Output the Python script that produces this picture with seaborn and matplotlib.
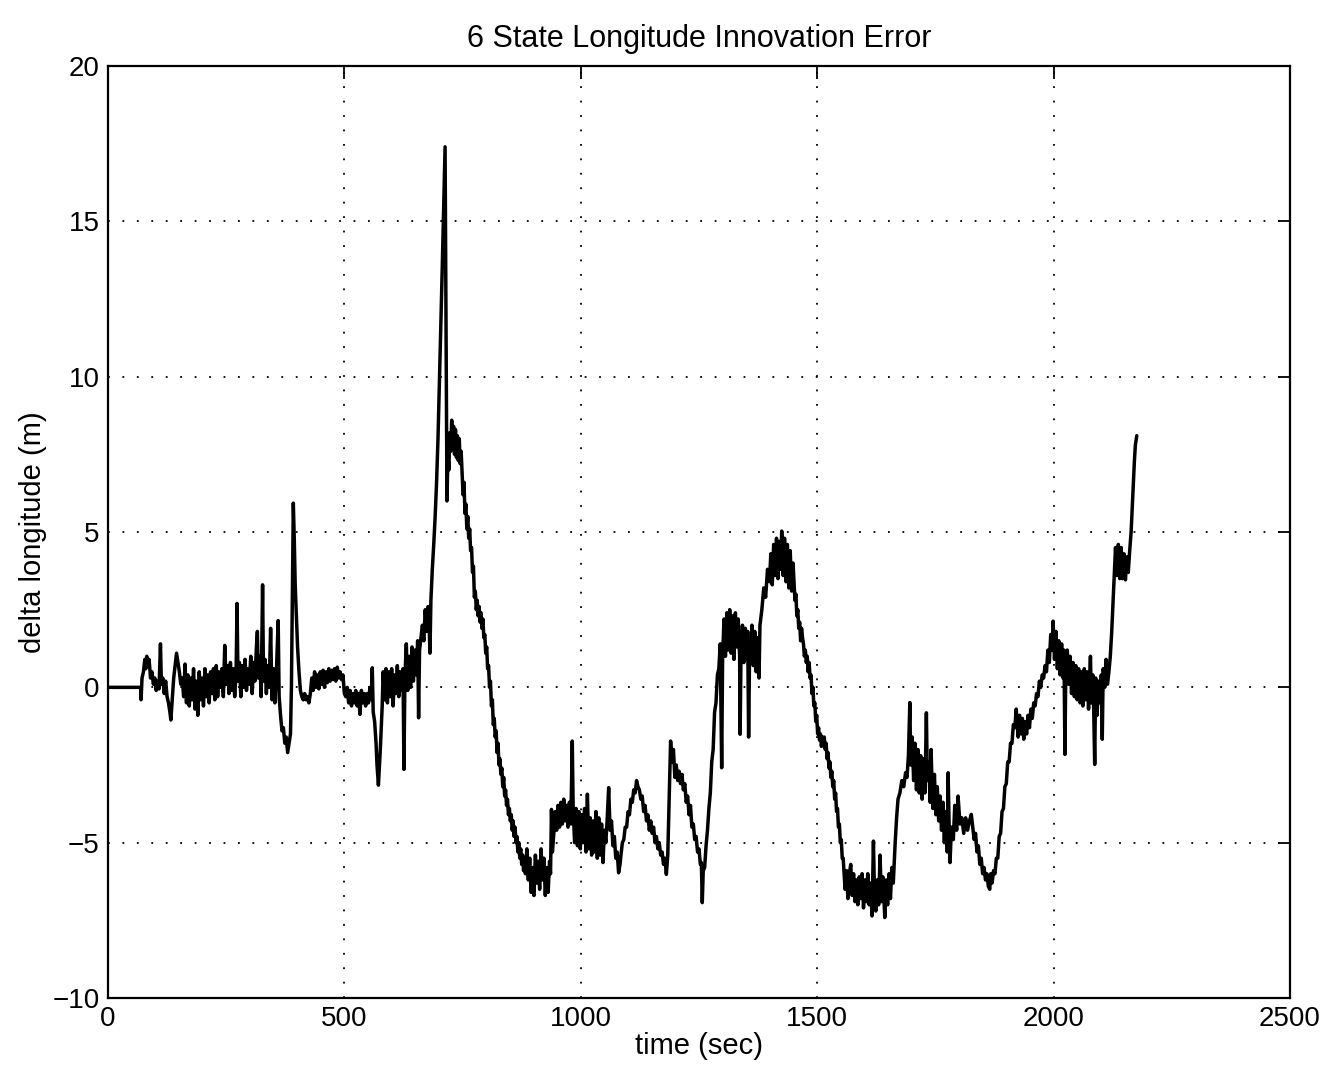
import numpy as np
import pandas as pd
import matplotlib
matplotlib.use("Agg")
import matplotlib.pyplot as plt
import seaborn as sns

# Longitude innovation error samples (time in s, error in m), one list per phase of the run
warmup = [(0, 0), (69, 0), (70, -0.4), (72, 0.3), (75, 0.5), (78, 0.9), (80, 0.6), (82, 1.0),
          (84, 0.7), (87, 0.9), (90, 0.3), (93, 0.5), (96, 0.1), (99, 0.3), (102, -0.1),
          (105, 0.2), (108, -0.05), (111, 1.4), (113, 0.1), (116, 0.3), (119, -0.2), (122, 0.2),
          (125, -0.3), (128, -0.5), (131, -0.8), (133, -1.05), (136, -0.4), (139, 0.3),
          (142, 0.7), (145, 1.1), (148, 0.8), (151, 0.5), (154, 0.1), (157, 0.3), (160, -0.3)]

early_band = [(163, 0.75), (166, -0.5), (169, 0.4), (172, -0.6), (175, 0.3), (178, -0.4),
              (181, 0.6), (184, -0.7), (187, 0.2), (190, -0.9), (193, 0.5), (196, -0.4),
              (199, 0.3), (202, -0.6), (205, 0.6), (208, -0.3), (211, 0.4), (214, -0.5),
              (217, 0.5), (220, -0.2), (223, 0.6), (226, -0.4), (229, 0.7), (232, -0.3),
              (235, 0.5), (238, 0.0), (241, 0.6), (244, -0.3), (247, 1.35), (250, 0.1),
              (253, 0.7), (256, -0.2), (259, 0.8), (262, -0.1), (265, 0.6), (268, -0.3),
              (271, 0.5), (273, 2.7), (275, 0.2), (278, 0.8), (281, -0.3), (284, 0.7),
              (287, 0.0), (290, 0.9), (293, -0.1), (296, 0.6), (299, 0.1), (302, 1.0),
              (305, -0.2), (308, 0.8), (311, 0.2), (314, 1.3), (316, 1.8), (318, 0.3),
              (321, 1.0), (324, -0.3), (327, 3.3), (329, 0.2), (332, 0.9), (335, -0.2),
              (338, 0.7), (341, 0.0), (344, 1.9), (347, -0.4), (350, 0.6), (353, -0.5),
              (356, 0.4), (360, 2.15), (362, -0.3)]

first_spike = [(365, -0.9), (368, -1.4), (371, -1.3), (374, -1.8), (377, -1.6), (380, -2.1),
               (383, -1.8), (386, -1.5), (388, 0.0), (390, 3.0), (392, 5.93), (394, 4.8),
               (396, 3.3), (398, 2.5), (401, 1.3), (404, 0.5), (407, -0.1), (410, -0.3),
               (413, -0.4), (416, -0.2), (419, -0.4), (422, -0.3), (425, -0.5), (428, -0.2)]

quiet_band = [(431, 0.3), (434, -0.1), (437, 0.5), (440, 0.0), (443, 0.4), (446, -0.05),
              (449, 0.5), (452, 0.1), (455, 0.55), (458, 0.0), (461, 0.5), (464, 0.15),
              (467, 0.6), (470, 0.2), (473, 0.55), (476, 0.25), (479, 0.6), (482, 0.2),
              (485, 0.65), (488, 0.3), (491, 0.5), (494, 0.25), (497, 0.4),
              (500, -0.2), (503, -0.3), (506, 0.0), (509, -0.5), (512, -0.1), (515, -0.6),
              (518, -0.2), (521, -0.5), (524, -0.1), (527, -0.6), (530, -0.2), (533, -0.87),
              (536, -0.1), (539, -0.5), (542, -0.2), (545, -0.6), (548, -0.2), (551, -0.5),
              (554, 0.0), (557, -0.4), (559, 0.63), (561, -0.8), (564, -1.1), (567, -1.8),
              (569, -2.5), (572, -3.15), (574, -2.6), (576, -2.0), (578, -1.3), (580, -0.6),
              (582, 0.5), (585, -0.4), (588, 0.6), (591, -0.5), (594, 0.5), (597, -0.3),
              (600, 0.6), (603, -0.6), (606, 0.4), (609, -0.2), (612, 0.7), (615, -0.3),
              (618, 0.5), (621, -0.1), (624, 0.6), (626, -2.64), (628, 0.3), (631, 1.4),
              (634, -0.1), (637, 1.0), (640, 0.0), (643, 1.3), (646, 0.2), (649, 1.2),
              (652, 0.4), (655, 1.5), (657, -0.98), (659, 1.2), (662, 1.6), (665, 2.0),
              (668, 1.5), (671, 2.5), (674, 1.8), (677, 2.6), (679, 2.2), (681, 1.1), (683, 2.8)]

main_peak = [(686, 3.8), (689, 4.6), (692, 5.5), (695, 6.6), (698, 8.0), (701, 9.8),
             (704, 11.5), (707, 13.5), (710, 15.5), (713, 17.4), (715, 12.0), (717, 6.0),
             (719, 7.5), (721, 7.0), (723, 8.2), (725, 7.6), (727, 8.6), (729, 7.8),
             (731, 8.4), (733, 7.5), (735, 8.3), (737, 7.4), (739, 8.1), (741, 7.3),
             (743, 8.0), (745, 7.2), (747, 7.6), (749, 6.9), (751, 6.2), (753, 6.6),
             (755, 5.6), (757, 5.9), (759, 5.1), (761, 5.5), (763, 4.8), (765, 5.1),
             (767, 4.4), (769, 4.5), (771, 3.7), (773, 3.9), (775, 2.9), (777, 3.1),
             (779, 2.5), (781, 2.8), (783, 2.3), (785, 2.6), (787, 2.1), (789, 2.4),
             (791, 1.9), (793, 2.2), (795, 1.6), (797, 1.7), (799, 1.1), (801, 1.3),
             (803, 0.6), (805, 0.7), (807, 0.0), (809, 0.2), (811, -0.6), (813, -0.4),
             (815, -1.2), (817, -1.0), (819, -1.6), (821, -1.4), (823, -2.1), (825, -1.8),
             (827, -2.5), (829, -2.3), (831, -2.8), (833, -2.6), (835, -3.2), (837, -2.9),
             (839, -3.5), (841, -3.3), (843, -3.8), (845, -3.6), (847, -4.1), (849, -3.9),
             (851, -4.3), (853, -4.1), (855, -4.6), (857, -4.3), (859, -4.8), (861, -4.5),
             (863, -5.0), (865, -4.8), (867, -5.3), (869, -5.0), (871, -5.5), (873, -5.2),
             (875, -5.7), (877, -5.4), (879, -5.9), (881, -5.5), (883, -6.0)]

first_trough = [(886, -5.2), (889, -6.2), (892, -5.5), (895, -6.6), (898, -5.8), (901, -6.7),
                (904, -5.4), (907, -6.3), (910, -5.6), (913, -6.5), (916, -5.2), (919, -6.2),
                (922, -5.5), (925, -6.7), (928, -5.8), (931, -6.6), (934, -5.6), (936, -6.0),
                (938, -3.93), (940, -5.3), (943, -4.7), (946, -4.0), (949, -4.6), (952, -3.8),
                (955, -4.5), (958, -3.7), (961, -4.4), (964, -3.6), (967, -4.3), (970, -3.8),
                (973, -4.5), (976, -3.7), (979, -4.4), (982, -1.73), (984, -4.0), (987, -5.0),
                (990, -3.9), (993, -5.1), (996, -4.0), (999, -5.2), (1002, -4.1), (1005, -5.0),
                (1008, -3.9), (1011, -5.3), (1014, -3.44), (1017, -5.2), (1020, -4.2),
                (1023, -5.4), (1026, -4.3), (1029, -5.3), (1032, -4.0), (1035, -5.5),
                (1038, -4.2), (1041, -5.4), (1044, -4.4), (1047, -5.64), (1050, -4.6),
                (1053, -5.0), (1056, -4.2), (1059, -3.23), (1062, -4.6), (1065, -4.3),
                (1068, -5.1), (1071, -4.8), (1074, -5.5), (1077, -5.3), (1080, -5.97),
                (1083, -5.7)]

mid_wiggles = [(1085, -5.4), (1088, -5.0), (1091, -4.9), (1094, -4.5), (1097, -4.5),
               (1100, -4.0), (1103, -4.1), (1106, -3.6), (1109, -3.7), (1112, -3.3),
               (1115, -3.4), (1118, -3.0), (1121, -3.2), (1124, -3.3), (1127, -3.6),
               (1130, -3.5), (1133, -4.0), (1136, -3.8), (1139, -4.3), (1142, -4.1),
               (1145, -4.6), (1148, -4.3), (1151, -4.7), (1154, -4.5), (1157, -5.0),
               (1160, -4.8), (1163, -5.2), (1166, -5.0), (1169, -5.4), (1172, -5.3),
               (1175, -5.7), (1178, -5.5), (1181, -6.02), (1184, -5.4), (1187, -3.6),
               (1190, -1.73), (1193, -2.4), (1196, -2.0), (1199, -2.9), (1202, -2.5),
               (1205, -3.0), (1208, -2.7), (1211, -3.1), (1214, -2.8), (1217, -3.3),
               (1220, -3.1), (1223, -3.7), (1226, -3.5), (1229, -4.1), (1232, -3.8),
               (1235, -4.5), (1238, -4.4), (1241, -4.9), (1244, -4.8), (1247, -5.3),
               (1250, -5.2), (1253, -5.7), (1255, -5.64), (1257, -6.93), (1259, -5.9),
               (1262, -5.8), (1265, -5.1), (1268, -4.6), (1271, -3.9), (1274, -3.4),
               (1277, -2.4), (1280, -2.0), (1283, -0.8), (1286, -0.5), (1289, 0.4),
               (1292, 0.6), (1295, 1.4), (1298, -2.59), (1300, 1.0)]

second_hump = [(1303, 2.2), (1306, 1.0), (1309, 2.4), (1312, 1.2), (1315, 2.5), (1318, 1.1),
               (1321, 2.3), (1324, 0.9), (1327, 2.4), (1330, 1.3), (1333, 2.2), (1336, 1.0),
               (1337, -1.51), (1339, 1.2), (1342, 2.0), (1345, 0.8), (1348, 1.9), (1351, 0.9),
               (1353, 1.8), (1355, -1.6), (1357, 1.0), (1359, 0.9), (1362, 2.0), (1365, 0.7),
               (1368, 1.8), (1371, 0.5), (1374, 1.6), (1377, 0.3), (1379, 2.0), (1383, 2.5),
               (1387, 3.2), (1391, 2.9), (1395, 3.8), (1399, 3.4), (1402, 4.3), (1405, 3.3),
               (1408, 4.6), (1411, 3.6), (1414, 4.8), (1417, 3.5), (1420, 4.7), (1423, 3.8),
               (1425, 5.03), (1428, 3.6), (1431, 4.8), (1434, 3.4), (1437, 4.6), (1440, 3.2),
               (1443, 4.4), (1446, 3.1), (1449, 4.0), (1451, 3.4), (1453, 2.8), (1455, 3.0),
               (1457, 2.3), (1459, 2.5), (1461, 1.9), (1463, 2.1), (1465, 1.5), (1467, 1.9),
               (1469, 1.6), (1471, 1.4), (1473, 1.0), (1475, 1.2), (1477, 0.8), (1479, 1.0),
               (1481, 0.5), (1483, 0.8), (1485, 0.3), (1487, 0.4), (1489, -0.2), (1491, 0.0),
               (1493, -0.6), (1495, -0.5), (1497, -1.1), (1499, -0.9), (1501, -1.5),
               (1503, -1.3), (1505, -1.7), (1507, -1.5), (1509, -1.9), (1511, -1.6),
               (1513, -1.8), (1515, -1.6), (1517, -2.0), (1519, -1.8), (1521, -2.3),
               (1523, -2.1), (1525, -2.6), (1527, -2.4), (1529, -2.9), (1531, -2.7),
               (1533, -3.2), (1535, -3.0), (1537, -3.6), (1539, -3.4), (1541, -4.0),
               (1543, -3.9), (1545, -4.5), (1547, -4.4), (1549, -5.0), (1551, -4.9),
               (1553, -5.5), (1555, -5.5)]

second_trough = [(1559, -6.5), (1562, -5.9), (1565, -6.8), (1568, -6.0), (1571, -5.7),
                 (1574, -6.7), (1577, -6.0), (1580, -6.9), (1583, -6.2), (1586, -7.0),
                 (1589, -6.1), (1592, -6.8), (1595, -6.0), (1598, -7.1), (1601, -6.2),
                 (1604, -6.9), (1607, -6.0), (1610, -7.0), (1613, -6.3), (1616, -7.36),
                 (1619, -4.95), (1621, -6.5), (1624, -7.2), (1627, -6.2), (1630, -7.0),
                 (1633, -5.4), (1636, -6.9), (1639, -6.1), (1643, -7.41), (1646, -6.2),
                 (1649, -7.0), (1652, -6.0), (1655, -6.8), (1658, -5.8), (1661, -6.3),
                 (1665, -5.0), (1668, -4.2), (1671, -3.6), (1675, -3.4), (1679, -3.0),
                 (1683, -3.2), (1687, -2.75), (1690, -2.9), (1693, -2.2), (1696, -0.49),
                 (1698, -2.5), (1701, -1.6), (1704, -3.0), (1707, -1.8), (1710, -3.3),
                 (1713, -2.0), (1716, -3.4), (1719, -2.2), (1722, -3.6), (1725, -2.3),
                 (1728, -3.4), (1731, -0.82), (1733, -3.0), (1736, -2.4), (1739, -3.7),
                 (1741, -2.0), (1742, -2.6), (1745, -3.9), (1748, -2.8), (1751, -4.1),
                 (1754, -3.2), (1757, -4.3), (1760, -3.5), (1763, -4.6), (1766, -3.7),
                 (1769, -5.0), (1772, -4.0), (1775, -5.3), (1777, -2.75), (1779, -4.4),
                 (1781, -5.64), (1784, -4.5), (1788, -4.9), (1791, -3.8), (1795, -4.6),
                 (1798, -3.5), (1802, -4.4), (1806, -4.2), (1810, -4.7), (1814, -4.2),
                 (1818, -4.6), (1822, -4.3), (1826, -4.09), (1829, -4.5), (1832, -4.9),
                 (1835, -4.7), (1838, -5.3), (1841, -5.1), (1844, -5.7), (1847, -5.5),
                 (1850, -6.0), (1853, -5.8), (1856, -6.2), (1859, -6.0), (1862, -6.4),
                 (1865, -6.5), (1867, -6.0), (1870, -6.3), (1873, -5.9), (1876, -6.0),
                 (1879, -5.5), (1882, -5.5), (1885, -4.8), (1888, -4.7), (1891, -4.0),
                 (1894, -3.9), (1897, -3.2), (1900, -3.1), (1903, -2.4), (1906, -2.4),
                 (1909, -1.8), (1912, -1.8), (1915, -1.2), (1918, -1.3), (1921, -0.7)]

final_climb = [(1925, -1.6), (1928, -0.9), (1931, -1.5), (1934, -1.0), (1937, -1.67),
               (1940, -1.1), (1943, -1.5), (1946, -0.9), (1949, -1.3), (1952, -0.7),
               (1955, -1.0), (1958, -0.5), (1961, -0.6), (1964, -0.2), (1967, -0.3),
               (1970, 0.2), (1973, 0.0), (1976, 0.4), (1979, 0.3), (1982, 0.7), (1985, 0.5),
               (1988, 1.2), (1991, 0.8), (1994, 1.7), (1997, 1.2), (1999, 2.13), (2002, 0.9),
               (2005, 1.8), (2008, 0.6), (2011, 1.5), (2014, 0.4), (2017, 1.4), (2020, 0.3),
               (2022, 1.2), (2024, -2.16), (2026, 0.8), (2029, 1.2), (2032, 0.1), (2035, 1.0),
               (2038, -0.2), (2041, 0.8), (2044, -0.3), (2047, 0.7), (2050, -0.4), (2053, 0.6),
               (2056, -0.5), (2059, 0.5), (2062, -0.6), (2065, 0.6), (2068, -0.4), (2071, 0.5),
               (2074, -0.7), (2078, 1.0), (2080, -0.5), (2083, 0.4), (2085, -0.8),
               (2087, -2.48), (2089, 0.3), (2092, -0.9), (2095, 0.2), (2098, -0.5),
               (2101, 0.4), (2103, -1.67), (2105, 0.6), (2108, 0.0), (2111, 0.9), (2114, 0.1),
               (2117, 0.5), (2120, 1.0), (2123, 1.8), (2126, 2.8), (2129, 3.8), (2131, 4.5),
               (2134, 3.6), (2137, 4.6), (2140, 3.5), (2143, 4.5), (2146, 3.5), (2149, 4.3),
               (2152, 3.46), (2155, 4.2), (2158, 3.7), (2161, 4.4), (2164, 5.0), (2167, 6.0),
               (2169, 6.7), (2171, 7.3), (2173, 7.8), (2176, 8.1)]

x_ticks = [0, 500, 1000, 1500, 2000, 2500]
y_ticks = [-10, -5, 0, 5, 10, 15, 20]

segments = [warmup, early_band, first_spike, quiet_band, main_peak, first_trough,
            mid_wiggles, second_hump, second_trough, final_climb]
df = pd.DataFrame([p for seg in segments for p in seg], columns=["time", "dlon"])

sns.set_theme(style="white")
plt.rcParams["font.family"] = ["Liberation Sans", "DejaVu Sans"]
plt.rcParams["text.color"] = "black"
plt.rcParams["axes.labelcolor"] = "black"

fig = plt.figure(figsize=(13.38, 10.83), dpi=100)
ax = fig.add_axes([0.0807, 0.0785, 0.8834, 0.8605])

sns.lineplot(data=df, x="time", y="dlon", ax=ax, color="black", linewidth=2.5,
             estimator=None, sort=False)

ax.set_xlim(0, 2500)
ax.set_ylim(-10, 20)
ax.set_xticks(x_ticks)
ax.set_yticks(y_ticks)
ax.set_xticklabels([str(v) for v in x_ticks])
ax.set_yticklabels([str(v).replace("-", "\u2212") for v in y_ticks])

ax.grid(True, color="black", linestyle=(0, (1, 7)), linewidth=1.3)
ax.tick_params(direction="in", length=9, width=1.3, top=True, right=True,
               labelsize=20, pad=6, colors="black")
for sp in ax.spines.values():
    sp.set_color("black")
    sp.set_linewidth(1.6)

ax.set_title("6 State Longitude Innovation Error", fontsize=22, pad=14, color="black")
ax.set_xlabel("time (sec)", fontsize=21, labelpad=0, color="black")
ax.set_ylabel("delta longitude (m)", fontsize=21, labelpad=4, color="black")

fig.savefig("out.png", dpi=100, facecolor="white")
